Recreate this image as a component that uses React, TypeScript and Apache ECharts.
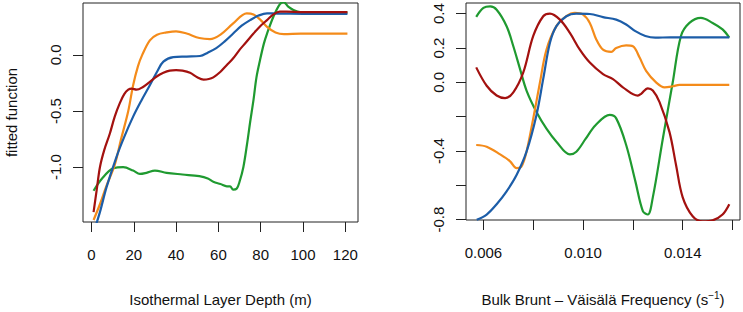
import React, { useEffect, useRef } from "react";
import * as echarts from "echarts";

// ---- Left panel: Isothermal Layer Depth (m)
const leftOrangeX = [1, 4, 7, 11, 14, 17.4, 19.7, 22, 24, 27.6, 31, 35.5, 40, 45, 51, 56, 61, 67, 73.4, 76.6, 80, 83, 87, 91, 99, 110, 121];
const leftOrangeY = [-1.47, -1.33, -1.17, -0.98, -0.75, -0.5, -0.27, -0.1, 0.0, 0.13, 0.18, 0.2, 0.21, 0.19, 0.15, 0.14, 0.18, 0.28, 0.37, 0.36, 0.31, 0.25, 0.2, 0.185, 0.19, 0.19, 0.19];

const leftBlueX = [1, 4, 7.1, 11.8, 15.5, 19.7, 23.5, 27.6, 31, 34, 38.7, 45, 51.3, 55, 59, 63, 67, 71, 75, 79, 83, 88, 100, 121];
const leftBlueY = [-1.58, -1.4, -1.18, -0.91, -0.73, -0.55, -0.41, -0.27, -0.15, -0.06, -0.02, -0.015, -0.01, 0.02, 0.06, 0.12, 0.19, 0.26, 0.31, 0.35, 0.37, 0.368, 0.366, 0.366];

const leftRedX = [1, 2.5, 4, 6, 8.7, 11, 13.4, 15.5, 17.4, 19, 21.3, 24, 27.6, 31, 34, 37, 40, 43, 46.6, 50, 53, 55.5, 57.6, 61, 64, 67, 70, 73, 76.6, 80, 83, 86, 89, 92, 100, 121];
const leftRedY = [-1.4, -1.2, -1.0, -0.85, -0.7, -0.55, -0.43, -0.35, -0.31, -0.3, -0.31, -0.29, -0.24, -0.19, -0.16, -0.14, -0.135, -0.14, -0.16, -0.2, -0.22, -0.215, -0.2, -0.15, -0.09, -0.03, 0.045, 0.11, 0.19, 0.26, 0.31, 0.36, 0.385, 0.385, 0.38, 0.38];

const leftGreenX = [1, 3, 5.5, 8, 10.3, 15, 19.7, 22.9, 26, 30, 35.5, 43, 51, 55, 57.6, 61, 64, 65.5, 67, 68.7, 70, 71.8, 73.5, 75, 76.6, 78, 79.7, 81.5, 83, 86, 89, 90.8, 93, 95.5, 98.7, 105, 121];
const leftGreenY = [-1.21, -1.15, -1.09, -1.04, -1.01, -1.0, -1.03, -1.06, -1.05, -1.03, -1.05, -1.065, -1.08, -1.1, -1.13, -1.15, -1.17, -1.17, -1.2, -1.19, -1.13, -1.0, -0.8, -0.6, -0.4, -0.2, -0.045, 0.1, 0.19, 0.34, 0.45, 0.47, 0.43, 0.4, 0.38, 0.376, 0.376];

// ---- Right panel: Bulk Brunt–Väisälä Frequency (s^-1)
const rightBlueX = [0.00573, 0.00613, 0.00653, 0.00693, 0.00733, 0.00773, 0.00813, 0.0084, 0.00867, 0.00893, 0.00933, 0.00973, 0.01027, 0.0108, 0.01133, 0.01173, 0.0121, 0.0125, 0.0129, 0.0135, 0.01587];
const rightBlueY = [-0.8, -0.77, -0.71, -0.635, -0.54, -0.404, -0.19, 0.02, 0.23, 0.327, 0.385, 0.4, 0.398, 0.38, 0.365, 0.337, 0.298, 0.27, 0.26, 0.262, 0.262];

const rightOrangeX = [0.00571, 0.00613, 0.00667, 0.00707, 0.00733, 0.00753, 0.00773, 0.008, 0.00827, 0.00853, 0.00893, 0.00933, 0.00967, 0.01, 0.01027, 0.01053, 0.0108, 0.01113, 0.01133, 0.01173, 0.012, 0.01227, 0.01253, 0.01293, 0.01327, 0.0136, 0.01387, 0.01587];
const rightOrangeY = [-0.365, -0.375, -0.42, -0.46, -0.5, -0.49, -0.404, -0.21, 0.0, 0.19, 0.327, 0.385, 0.404, 0.394, 0.346, 0.25, 0.19, 0.177, 0.2, 0.215, 0.21, 0.144, 0.067, 0.0, -0.029, -0.023, -0.015, -0.015];

const rightRedX = [0.00571, 0.00613, 0.00653, 0.00687, 0.0072, 0.0076, 0.008, 0.0084, 0.00867, 0.00907, 0.00947, 0.00987, 0.01027, 0.0108, 0.0112, 0.0116, 0.0122, 0.01233, 0.0126, 0.0128, 0.01307, 0.01347, 0.01373, 0.014, 0.0144, 0.0148, 0.0152, 0.0156, 0.01587];
const rightRedY = [0.087, -0.02, -0.077, -0.092, -0.058, 0.058, 0.27, 0.385, 0.4, 0.365, 0.288, 0.19, 0.115, 0.048, 0.019, -0.029, -0.077, -0.067, -0.035, -0.048, -0.115, -0.29, -0.48, -0.67, -0.78, -0.81, -0.804, -0.77, -0.71];

const rightGreenX = [0.00571, 0.006, 0.00627, 0.00653, 0.00693, 0.0072, 0.00747, 0.00773, 0.00813, 0.00853, 0.00893, 0.00947, 0.00973, 0.0101, 0.0105, 0.01107, 0.01133, 0.01173, 0.0121, 0.0124, 0.0126, 0.0128, 0.0132, 0.0136, 0.01393, 0.01427, 0.01473, 0.0152, 0.0156, 0.01587];
const rightGreenY = [0.381, 0.433, 0.442, 0.423, 0.327, 0.21, 0.077, -0.048, -0.173, -0.27, -0.346, -0.42, -0.404, -0.33, -0.25, -0.19, -0.21, -0.365, -0.577, -0.75, -0.77, -0.67, -0.33, 0.0, 0.27, 0.346, 0.375, 0.346, 0.308, 0.26];

// ticks and labels
const leftXTicks = [0, 20, 40, 60, 80, 100, 120];
const leftYTicks = [-1.0, -0.5, 0.0];
const rightXTicks = [0.006, 0.008, 0.01, 0.012, 0.014, 0.016];
const rightXLabels = [0.006, 0.01, 0.014];
const rightYTicks = [-0.8, -0.6, -0.4, -0.2, 0.0, 0.2, 0.4];
const rightYLabels = [-0.8, -0.4, 0.0, 0.2, 0.4];

const COLORS = { orange: "#F48B1A", blue: "#1C5DA8", red: "#A3110F", green: "#1F9A30" };
const FONT = "'Liberation Sans', Arial, Helvetica, sans-serif";

const zip = (xs: number[], ys: number[]) => xs.map((x, i) => [x, ys[i]]);

export default function App() {
  const ref = useRef<HTMLDivElement>(null);
  useEffect(() => {
    document.body.style.margin = "0";
    if (!ref.current) return;
    const chart = echarts.init(ref.current, null, { renderer: "svg" });
    const labelStyle = { color: "#111", fontSize: 15, fontFamily: FONT };
    const tickStyle = { show: true, inside: false, length: 10, lineStyle: { color: "#222", width: 1 } };
    const mkX = (gridIndex: number, min: number, max: number, ticks: number[], labels: number[], dec: number, name: any, rich?: any) => ({
      type: "value", gridIndex, min, max,
      axisLine: { show: false, onZero: false },
      axisTick: { ...tickStyle, customValues: ticks },
      axisLabel: { ...labelStyle, margin: 25, customValues: labels, formatter: (v: number) => v.toFixed(dec) },
      splitLine: { show: false },
      name, nameLocation: "middle", nameGap: 70,
      nameTextStyle: { color: "#111", fontSize: 15, fontFamily: FONT, rich },
    });
    const mkY = (gridIndex: number, min: number, max: number, ticks: number[], labels: number[], name: string) => ({
      type: "value", gridIndex, min, max,
      axisLine: { show: false, onZero: false },
      axisTick: { ...tickStyle, customValues: ticks },
      axisLabel: { ...labelStyle, margin: 20, rotate: 90, customValues: labels, formatter: (v: number) => v.toFixed(1) },
      splitLine: { show: false },
      name, nameLocation: "middle", nameGap: 64, nameRotate: 90,
      nameTextStyle: { color: "#111", fontSize: 15, fontFamily: FONT },
    });
    const line = (xi: number, xs: number[], ys: number[], color: string) => ({
      type: "line", xAxisIndex: xi, yAxisIndex: xi, data: zip(xs, ys),
      showSymbol: false, symbol: "none", smooth: 0.35, clip: true,
      lineStyle: { color, width: 2.2 },
    });
    chart.setOption({
      animation: false,
      grid: [
        { left: 83, top: 3, width: 275, height: 219, show: true, borderColor: "#222", borderWidth: 1, backgroundColor: "transparent" },
        { left: 466, top: 3, width: 274, height: 219, show: true, borderColor: "#222", borderWidth: 1, backgroundColor: "transparent" },
      ],
      xAxis: [
        mkX(0, -4, 126, leftXTicks, leftXTicks, 0, "Isothermal Layer Depth (m)"),
        mkX(1, 0.0053, 0.0163, rightXTicks, rightXLabels, 3,
          "{a|Bulk Brunt – Väisälä Frequency (s}{s|−1}{a|)}",
          { a: { fontSize: 15, fontFamily: FONT, color: "#111" }, s: { fontSize: 10, fontFamily: FONT, color: "#111", padding: [0, 0, 9, 0] } }),
      ],
      yAxis: [
        mkY(0, -1.488, 0.462, leftYTicks, leftYTicks, "fitted function"),
        mkY(1, -0.802, 0.462, rightYTicks, rightYLabels, ""),
      ],
      series: [
        line(0, leftGreenX, leftGreenY, COLORS.green),
        line(0, leftOrangeX, leftOrangeY, COLORS.orange),
        line(0, leftBlueX, leftBlueY, COLORS.blue),
        line(0, leftRedX, leftRedY, COLORS.red),
        line(1, rightGreenX, rightGreenY, COLORS.green),
        line(1, rightOrangeX, rightOrangeY, COLORS.orange),
        line(1, rightBlueX, rightBlueY, COLORS.blue),
        line(1, rightRedX, rightRedY, COLORS.red),
      ],
    });
    return () => chart.dispose();
  }, []);
  return <div ref={ref} style={{ width: 743, height: 312 }} />;
}
